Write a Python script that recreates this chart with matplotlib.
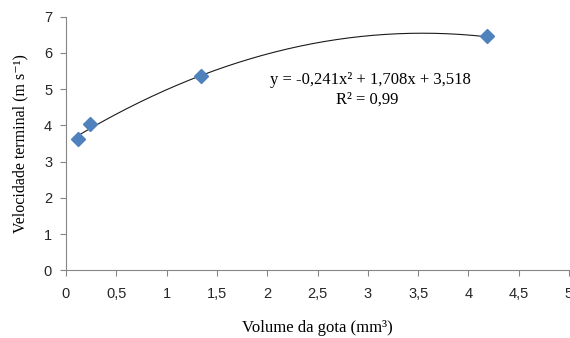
import numpy as np
import matplotlib
matplotlib.use("Agg")
import matplotlib.pyplot as plt

# Data
volume = [0.12, 0.24, 1.34, 4.18]
velocity = [3.62, 4.04, 5.37, 6.47]
coef = [-0.241, 1.708, 3.518]  # trendline y = a x^2 + b x + c
x_ticks = [0, 0.5, 1, 1.5, 2, 2.5, 3, 3.5, 4, 4.5, 5]
x_tick_labels = ["0", "0,5", "1", "1,5", "2", "2,5", "3", "3,5", "4", "4,5", "5"]
y_ticks = [0, 1, 2, 3, 4, 5, 6, 7]

W, H = 570, 338
fig = plt.figure(figsize=(W / 100, H / 100), dpi=100)
ax = fig.add_axes([66 / W, (H - 270.3) / H, (569 - 66) / W, (270.3 - 16.7) / H])

xs = np.linspace(min(volume), max(volume), 200)
ys = np.polyval(coef, xs)
ax.plot(xs, ys, color="#1a1a1a", lw=0.8, zorder=2)
ax.plot(volume, velocity, linestyle="none", marker="D", markersize=7,
        color="#4F81BD", markeredgecolor="#4F81BD", zorder=3)

ax.set_xlim(0, 5)
ax.set_ylim(0, 7)
ax.set_xticks(x_ticks)
ax.set_xticklabels(x_tick_labels)
ax.set_yticks(y_ticks)

for s in ["top", "right"]:
    ax.spines[s].set_visible(False)
for s in ["left", "bottom"]:
    ax.spines[s].set_color("#868686")
    ax.spines[s].set_linewidth(0.8)
ax.tick_params(direction="out", length=4, width=0.8, color="#868686",
               labelsize=10.5, labelcolor="#262626")
for lab in ax.get_xticklabels() + ax.get_yticklabels():
    lab.set_family("Liberation Sans")
ax.tick_params(axis="x", pad=8)
ax.tick_params(axis="y", pad=6)

serif = ["Liberation Serif", "DejaVu Serif"]
fig.text(317 / W, 1 - 328 / H, "Volume da gota (mm³)", ha="center", va="center",
         family=serif, fontsize=12)
fig.text(20 / W, 1 - 144 / H, "Velocidade terminal (m s⁻¹)", ha="center", va="center",
         rotation=90, family=serif, fontsize=11.5)

fig.text(370 / W, 1 - 80 / H, "y = -0,241x² + 1,708x + 3,518", ha="center", va="center",
         family=serif, fontsize=12)
fig.text(367 / W, 1 - 100 / H, "R² = 0,99", ha="center", va="center",
         family=serif, fontsize=12)

fig.savefig("out.png", dpi=100)
